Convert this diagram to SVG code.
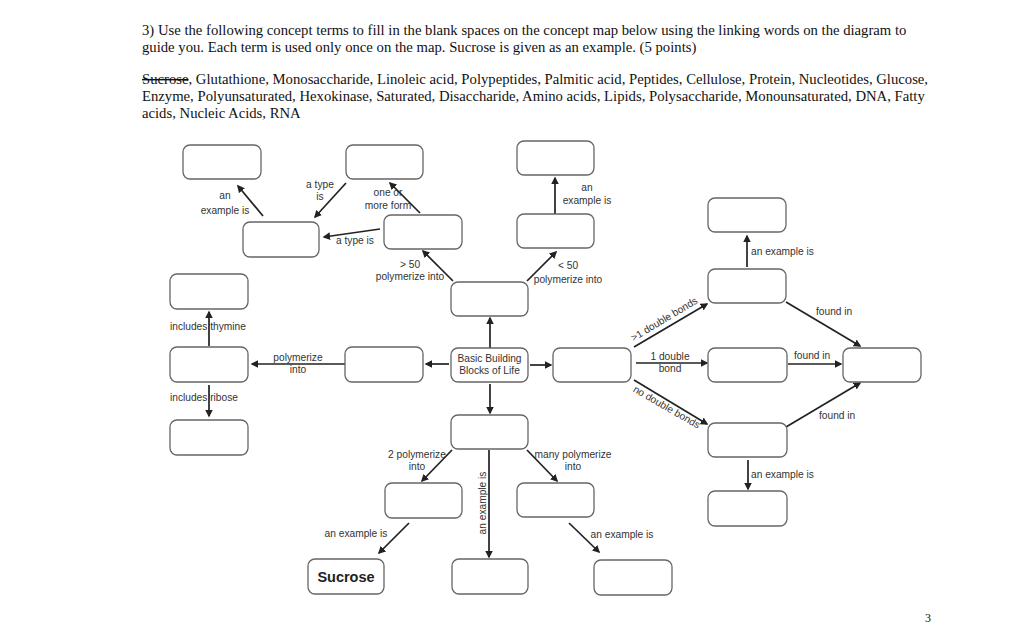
<svg xmlns="http://www.w3.org/2000/svg" width="1024" height="640" viewBox="0 0 1024 640">
<style>
.hdr{font-family:"Liberation Serif",serif;font-size:14.7px;fill:#111}
.lbl{font-family:"Liberation Sans",Arial,sans-serif;font-size:10.2px;fill:#333}
.box{fill:#fff;stroke:#666;stroke-width:1.3}
.c{stroke:#222;stroke-width:1.7;fill:none;marker-end:url(#ah)}
</style>
<defs>
<marker id="ah" viewBox="0 0 10 10" refX="8" refY="5" markerWidth="4.5" markerHeight="4.5" orient="auto" markerUnits="strokeWidth">
<path d="M0,0 L10,5 L0,10 z" fill="#222"/>
</marker>
</defs>
<rect width="1024" height="640" fill="#fff"/>
<g id="header">
<text class="hdr" x="142" y="35">3) Use the following concept terms to fill in the blank spaces on the concept map below using the linking words on the diagram to</text>
<text class="hdr" x="142" y="52">guide you.  Each term is used only once on the map. Sucrose is given as an example. (5 points)</text>
<text class="hdr" x="142" y="84"><tspan text-decoration="line-through">Sucrose</tspan>, Glutathione, Monosaccharide, Linoleic acid, Polypeptides, Palmitic acid, Peptides, Cellulose, Protein, Nucleotides, Glucose,</text>
<text class="hdr" x="142" y="101">Enzyme, Polyunsaturated, Hexokinase, Saturated, Disaccharide, Amino acids, Lipids, Polysaccharide, Monounsaturated, DNA, Fatty</text>
<text class="hdr" x="142" y="118">acids, Nucleic Acids, RNA</text>
</g>
<g id="connectors">
<line class="c" x1="263" y1="216" x2="238" y2="186"/>
<line class="c" x1="346" y1="183" x2="315" y2="217"/>
<line class="c" x1="420" y1="213" x2="390" y2="183"/>
<line class="c" x1="380" y1="229" x2="324" y2="237"/>
<line class="c" x1="453" y1="281" x2="423" y2="251"/>
<line class="c" x1="555" y1="214" x2="555" y2="178"/>
<line class="c" x1="527" y1="281" x2="556" y2="252"/>
<line class="c" x1="747" y1="267" x2="747" y2="236"/>
<line class="c" x1="490" y1="348" x2="490" y2="318"/>
<line class="c" x1="530" y1="365" x2="551" y2="365"/>
<line class="c" x1="490" y1="384" x2="490" y2="413"/>
<line class="c" x1="449" y1="364" x2="426" y2="364"/>
<line class="c" x1="345" y1="364" x2="252" y2="364"/>
<line class="c" x1="209" y1="346" x2="209" y2="312"/>
<line class="c" x1="209" y1="385" x2="209" y2="416"/>
<line class="c" x1="634" y1="347" x2="707" y2="304"/>
<line class="c" x1="636" y1="363" x2="707" y2="363"/>
<line class="c" x1="634" y1="380" x2="707" y2="424"/>
<line class="c" x1="786" y1="302" x2="860" y2="346"/>
<line class="c" x1="788" y1="364" x2="841" y2="364"/>
<line class="c" x1="786" y1="427" x2="860" y2="383"/>
<line class="c" x1="748" y1="460" x2="748" y2="489"/>
<line class="c" x1="452" y1="450" x2="422" y2="481"/>
<line class="c" x1="527" y1="450" x2="557" y2="481"/>
<line class="c" x1="489" y1="450" x2="489" y2="557"/>
<line class="c" x1="409" y1="523" x2="379" y2="553"/>
<line class="c" x1="569" y1="523" x2="599" y2="552"/>
</g>
<g id="labels">
<text class="lbl" x="225" y="199" text-anchor="middle">an</text>
<text class="lbl" x="225" y="214" text-anchor="middle">example is</text>
<text class="lbl" x="320" y="188" text-anchor="middle">a type</text>
<text class="lbl" x="320" y="200" text-anchor="middle">is</text>
<text class="lbl" x="388" y="196" text-anchor="middle">one or</text>
<text class="lbl" x="388" y="209" text-anchor="middle">more form</text>
<text class="lbl" x="355" y="244" text-anchor="middle">a type is</text>
<text class="lbl" x="410" y="268" text-anchor="middle">&gt; 50</text>
<text class="lbl" x="410" y="280" text-anchor="middle">polymerize into</text>
<text class="lbl" x="587" y="191" text-anchor="middle">an</text>
<text class="lbl" x="587" y="204" text-anchor="middle">example is</text>
<text class="lbl" x="568" y="269" text-anchor="middle">&lt; 50</text>
<text class="lbl" x="568" y="283" text-anchor="middle">polymerize into</text>
<text class="lbl" x="751" y="255">an example is</text>
<text class="lbl" x="170" y="330">includes thymine</text>
<text class="lbl" x="170" y="401">includes ribose</text>
<text class="lbl" x="298" y="361" text-anchor="middle">polymerize</text>
<text class="lbl" x="298" y="373" text-anchor="middle">into</text>
<text class="lbl" transform="translate(666,322) rotate(-31)" text-anchor="middle">&gt;1 double bonds</text>
<text class="lbl" x="670" y="360" text-anchor="middle">1 double</text>
<text class="lbl" x="670" y="372" text-anchor="middle">bond</text>
<text class="lbl" transform="translate(665,410) rotate(30)" text-anchor="middle">no double bonds</text>
<text class="lbl" x="816" y="315">found in</text>
<text class="lbl" x="794" y="359">found in</text>
<text class="lbl" x="819" y="419">found in</text>
<text class="lbl" x="751" y="478">an example is</text>
<text class="lbl" x="417" y="458" text-anchor="middle">2 polymerize</text>
<text class="lbl" x="417" y="470" text-anchor="middle">into</text>
<text class="lbl" x="573" y="458" text-anchor="middle">many polymerize</text>
<text class="lbl" x="573" y="470" text-anchor="middle">into</text>
<text class="lbl" transform="translate(486,503) rotate(-90)" text-anchor="middle">an example is</text>
<text class="lbl" x="356" y="537" text-anchor="middle">an example is</text>
<text class="lbl" x="622" y="538" text-anchor="middle">an example is</text>
</g>
<g id="n-a"><rect class="box" x="183" y="145" width="78" height="34" rx="7"/></g>
<g id="n-b"><rect class="box" x="346" y="145" width="77" height="34" rx="7"/></g>
<g id="n-c"><rect class="box" x="243" y="222" width="76" height="35" rx="7"/></g>
<g id="n-d"><rect class="box" x="384" y="215" width="78" height="34" rx="7"/></g>
<g id="n-e"><rect class="box" x="517" y="141" width="77" height="34" rx="7"/></g>
<g id="n-f"><rect class="box" x="517" y="214" width="77" height="34" rx="7"/></g>
<g id="n-g"><rect class="box" x="708" y="198" width="78" height="34" rx="7"/></g>
<g id="n-h"><rect class="box" x="708" y="269" width="78" height="34" rx="7"/></g>
<g id="n-i"><rect class="box" x="451" y="282" width="77" height="34" rx="7"/></g>
<g id="n-center"><rect class="box" x="451" y="348" width="77" height="34" rx="7"/>
<text class="lbl" x="489.5" y="362" text-anchor="middle">Basic Building</text>
<text class="lbl" x="489.5" y="374" text-anchor="middle">Blocks of Life</text></g>
<g id="n-j"><rect class="box" x="553" y="348" width="78" height="34" rx="7"/></g>
<g id="n-k"><rect class="box" x="708" y="348" width="79" height="34" rx="7"/></g>
<g id="n-l"><rect class="box" x="843" y="348" width="78" height="34" rx="7"/></g>
<g id="n-m"><rect class="box" x="708" y="423" width="79" height="34" rx="7"/></g>
<g id="n-w"><rect class="box" x="708" y="491" width="79" height="35" rx="7"/></g>
<g id="n-n"><rect class="box" x="345" y="347" width="78" height="35" rx="7"/></g>
<g id="n-o"><rect class="box" x="170" y="274" width="78" height="35" rx="7"/></g>
<g id="n-p"><rect class="box" x="170" y="347" width="78" height="35" rx="7"/></g>
<g id="n-q"><rect class="box" x="170" y="420" width="78" height="35" rx="7"/></g>
<g id="n-r"><rect class="box" x="451" y="415" width="77" height="34" rx="7"/></g>
<g id="n-s"><rect class="box" x="385" y="483" width="77" height="35" rx="7"/></g>
<g id="n-t"><rect class="box" x="517" y="483" width="77" height="34" rx="7"/></g>
<g id="n-sucrose"><rect class="box" x="308" y="559" width="76" height="35" rx="7"/>
<text x="346" y="582" text-anchor="middle" style="font-family:'Liberation Sans',Arial,sans-serif;font-size:14.5px;font-weight:bold;fill:#222">Sucrose</text></g>
<g id="n-u"><rect class="box" x="452" y="559" width="76" height="35" rx="7"/></g>
<g id="n-v"><rect class="box" x="594" y="560" width="78" height="35" rx="7"/></g>
<text x="928" y="622" text-anchor="middle" style="font-family:'Liberation Serif',serif;font-size:12px;fill:#111">3</text>
</svg>
